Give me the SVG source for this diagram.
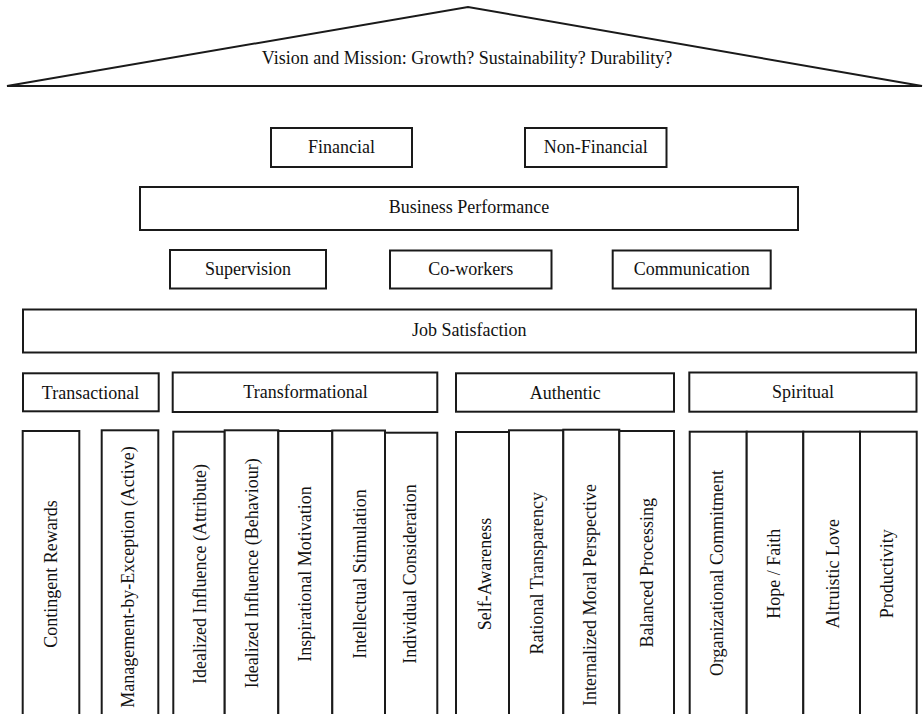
<svg xmlns="http://www.w3.org/2000/svg" width="924" height="714" viewBox="0 0 924 714">
<style>
.b{fill:#fff;stroke:#1a1a1a;stroke-width:2}
.t{font-family:"Liberation Serif","Times New Roman",serif;font-size:18px;fill:#111;text-anchor:middle}
</style>
<rect width="924" height="714" fill="#fff"/>
<g id="roof">
<polygon class="b" points="7,86 468,7 922,86"/>
<text class="t" x="467" y="64">Vision and Mission: Growth? Sustainability? Durability?</text>
</g>
<g id="financial"><rect class="b" x="271" y="128" width="141" height="39"/><text class="t" x="341.5" y="153">Financial</text></g>
<g id="non-financial"><rect class="b" x="525" y="128" width="141.5" height="39"/><text class="t" x="595.8" y="153">Non-Financial</text></g>
<g id="business-performance"><rect class="b" x="140" y="187" width="658" height="43"/><text class="t" x="469" y="213">Business Performance</text></g>
<g id="supervision"><rect class="b" x="170" y="250" width="156" height="38.5"/><text class="t" x="248" y="275">Supervision</text></g>
<g id="co-workers"><rect class="b" x="390" y="250.5" width="161.5" height="38"/><text class="t" x="470.8" y="275">Co-workers</text></g>
<g id="communication"><rect class="b" x="612.7" y="250.5" width="158" height="38"/><text class="t" x="691.7" y="275">Communication</text></g>
<g id="job-satisfaction"><rect class="b" x="23" y="309.5" width="893" height="43"/><text class="t" x="469.3" y="336">Job Satisfaction</text></g>
<g id="transactional"><rect class="b" x="23" y="373.3" width="135.7" height="38"/><text class="t" x="90.5" y="399">Transactional</text></g>
<g id="transformational"><rect class="b" x="172.7" y="372.5" width="264.6" height="39.5"/><text class="t" x="305.5" y="397.5">Transformational</text></g>
<g id="authentic"><rect class="b" x="456" y="373.3" width="218" height="38.4"/><text class="t" x="565.3" y="399">Authentic</text></g>
<g id="spiritual"><rect class="b" x="689.3" y="372.5" width="227.2" height="39.2"/><text class="t" x="803" y="398.3">Spiritual</text></g>
<g id="contingent-rewards"><rect class="b" x="22.7" y="431" width="56.6" height="290"/><text class="t" transform="translate(56.5,574) rotate(-90)">Contingent Rewards</text></g>
<g id="management-by-exception"><rect class="b" x="101.7" y="430.3" width="56.6" height="290"/><text class="t" transform="translate(134,577) rotate(-90)">Management-by-Exception (Active)</text></g>
<g id="idealized-influence-attribute"><rect class="b" x="173.3" y="431.7" width="51.4" height="290"/><text class="t" transform="translate(205.9,574) rotate(-90)">Idealized Influence (Attribute)</text></g>
<g id="idealized-influence-behaviour"><rect class="b" x="224.7" y="430.3" width="53.6" height="290"/><text class="t" transform="translate(258,573.3) rotate(-90)">Idealized Influence (Behaviour)</text></g>
<g id="inspirational-motivation"><rect class="b" x="278.3" y="431" width="54" height="290"/><text class="t" transform="translate(310.8,574) rotate(-90)">Inspirational Motivation</text></g>
<g id="intellectual-stimulation"><rect class="b" x="332.3" y="430.5" width="52.7" height="290"/><text class="t" transform="translate(365.5,574) rotate(-90)">Intellectual Stimulation</text></g>
<g id="individual-consideration"><rect class="b" x="385" y="432.7" width="52.3" height="290"/><text class="t" transform="translate(416.3,574) rotate(-90)">Individual Consideration</text></g>
<g id="self-awareness"><rect class="b" x="456" y="432" width="53" height="290"/><text class="t" transform="translate(491,574) rotate(-90)">Self-Awareness</text></g>
<g id="rational-transparency"><rect class="b" x="509" y="430.3" width="54.3" height="290"/><text class="t" transform="translate(543,573.3) rotate(-90)">Rational Transparency</text></g>
<g id="internalized-moral-perspective"><rect class="b" x="563.3" y="429.7" width="56" height="290"/><text class="t" transform="translate(595.9,595) rotate(-90)">Internalized Moral Perspective</text></g>
<g id="balanced-processing"><rect class="b" x="619.3" y="431" width="54.7" height="290"/><text class="t" transform="translate(653,572.8) rotate(-90)">Balanced Processing</text></g>
<g id="organizational-commitment"><rect class="b" x="689.7" y="431.7" width="57" height="290"/><text class="t" transform="translate(722.7,573) rotate(-90)">Organizational Commitment</text></g>
<g id="hope-faith"><rect class="b" x="746.7" y="431.7" width="56.6" height="290"/><text class="t" transform="translate(780,573.8) rotate(-90)">Hope / Faith</text></g>
<g id="altruistic-love"><rect class="b" x="803.3" y="431.7" width="56.7" height="290"/><text class="t" transform="translate(838.5,573.8) rotate(-90)">Altruistic Love</text></g>
<g id="productivity"><rect class="b" x="860" y="431.7" width="56.7" height="290"/><text class="t" transform="translate(893,573.7) rotate(-90)">Productivity</text></g>
<g id="connectors"></g>
</svg>
